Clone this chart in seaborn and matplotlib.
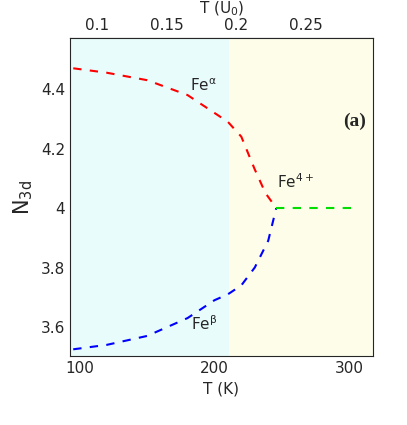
import numpy as np
import matplotlib
matplotlib.use("Agg")
import matplotlib.pyplot as plt
import seaborn as sns

sns.set_style("ticks")
plt.rcParams["font.family"] = ["DejaVu Sans"]

# data
t_alpha = [95, 120, 150, 180, 200, 210, 220, 230, 238, 246]
n_alpha = [4.47, 4.455, 4.43, 4.38, 4.32, 4.29, 4.24, 4.13, 4.05, 4.0]
t_beta = [95, 120, 150, 180, 200, 210, 220, 230, 240, 246]
n_beta = [3.525, 3.54, 3.57, 3.63, 3.69, 3.71, 3.74, 3.80, 3.89, 4.0]
t_plus = [246, 305]
n_plus = [4.0, 4.0]

fig, ax = plt.subplots(figsize=(4.07, 4.25), dpi=100)
fig.subplots_adjust(left=0.172, right=0.916, top=0.91, bottom=0.162)

ax.axvspan(90, 211, color="#e8fcfc", lw=0)
ax.axvspan(211, 320, color="#fdfdea", lw=0)

sns.lineplot(x=t_alpha, y=n_alpha, ax=ax, color="red", ls=(0, (4, 4)), lw=1.5)
sns.lineplot(x=t_beta, y=n_beta, ax=ax, color="blue", ls=(0, (4, 4)), lw=1.5)
sns.lineplot(x=t_plus, y=n_plus, ax=ax, color="#00dd00", ls=(0, (4, 4)), lw=1.5)

ax.set_xlim(92.6, 317.8)
ax.set_ylim(3.502, 4.571)
ax.set_xticks([100, 200, 300])
ax.set_yticks([3.6, 3.8, 4.0, 4.2, 4.4])
ax.set_yticklabels(["3.6", "3.8", "4", "4.2", "4.4"])
ax.set_xlabel("T (K)", fontsize=11)
ax.set_ylabel(r"N$_{\rm 3d}$", fontsize=15)
ax.tick_params(direction="in", top=False, right=True, labelsize=11)

ax.text(192, 4.41, r"Fe$^{\mathrm{\alpha}}$", fontsize=11, ha="center", va="center")
ax.text(192, 3.61, r"Fe$^{\mathrm{\beta}}$", fontsize=11, ha="center", va="center")
ax.text(260, 4.09, r"Fe$^{4+}$", fontsize=11, ha="center", va="center")
ax.text(304, 4.29, "(a)", fontsize=14, fontweight="bold", family="Liberation Serif",
        ha="center", va="center")

slope, icpt = 1037.0, 8.9
sec = ax.secondary_xaxis("top", functions=(lambda t: (t - icpt) / slope,
                                           lambda u: u * slope + icpt))
sec.set_xticks([0.1, 0.15, 0.2, 0.25])
sec.set_xticklabels(["0.1", "0.15", "0.2", "0.25"])
sec.set_xlabel(r"T (U$_0$)", fontsize=11)
sec.tick_params(direction="in", labelsize=11)

fig.savefig("out.png", dpi=100)
